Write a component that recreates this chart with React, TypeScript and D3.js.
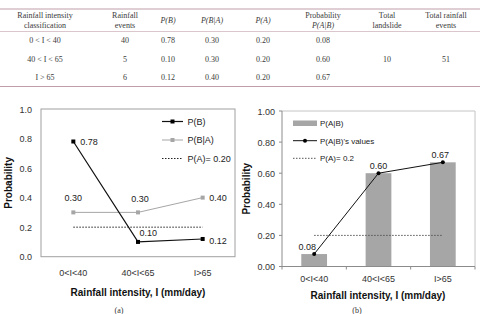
import React from 'react';
import * as d3 from 'd3';

// rainfall classes and the probabilities from the table
const categories = ['0<I<40', '40<I<65', 'I>65'];
const classLabels = ['0 < I < 40', '40 < I < 65', 'I > 65'];
const rainfallEvents = [40, 5, 6];
const pB = [0.78, 0.1, 0.12];
const pBA = [0.3, 0.3, 0.4];
const pA = [0.2, 0.2, 0.2];
const pAB = [0.08, 0.6, 0.67];
const totalLandslide = 10;
const totalRainfall = 51;

const leftTicks = [0, 0.2, 0.4, 0.6, 0.8, 1.0];
const rightTicks = [0, 0.2, 0.4, 0.6, 0.8, 1.0];

const W = 480;
const H = 314;
const sans = 'Liberation Sans, Arial, sans-serif';
const serif = 'Liberation Serif, Times New Roman, serif';

const fmt = d3.format('.2f');

const Table = () => {
  const cols = [45, 125, 168, 212, 263, 323, 387, 446];
  const headers: { lines: string[]; italic?: boolean[] }[] = [
    { lines: ['Rainfall intensity', 'classification'] },
    { lines: ['Rainfall', 'events'] },
    { lines: ['P(B)'], italic: [true] },
    { lines: ['P(B|A)'], italic: [true] },
    { lines: ['P(A)'], italic: [true] },
    { lines: ['Probability', 'P(A|B)'], italic: [false, true] },
    { lines: ['Total', 'landslide'] },
    { lines: ['Total rainfall', 'events'] },
  ];
  const rowY = [43, 61.5, 80];
  const rows = classLabels.map((c, i) => [
    c,
    String(rainfallEvents[i]),
    fmt(pB[i]),
    fmt(pBA[i]),
    fmt(pA[i]),
    fmt(pAB[i]),
  ]);
  return (
    <g fontFamily={serif} fontSize={8} fill="#3a3a3a">
      <line x1={0} x2={W} y1={9} y2={9} stroke="#bf9eaa" strokeWidth={1.2} />
      <line x1={0} x2={W} y1={31.5} y2={31.5} stroke="#dcc6ce" strokeWidth={1} />
      <line x1={0} x2={W} y1={86.5} y2={86.5} stroke="#bf9eaa" strokeWidth={1.2} />
      {headers.map((h, i) =>
        h.lines.map((t, j) => (
          <text
            key={`h${i}${j}`}
            x={cols[i]}
            y={h.lines.length === 1 ? 22.5 : 17.5 + j * 10.5}
            textAnchor="middle"
            fill="#3a3a3a"
            fontStyle={h.italic && h.italic[j] ? 'italic' : 'normal'}
          >
            {t}
          </text>
        ))
      )}
      {rows.map((r, i) =>
        r.map((v, j) => (
          <text key={`r${i}${j}`} x={cols[j]} y={rowY[i]} textAnchor="middle" fill="#3a3a3a">
            {v}
          </text>
        ))
      )}
      <text x={cols[6]} y={rowY[1]} textAnchor="middle" fill="#3a3a3a">{totalLandslide}</text>
      <text x={cols[7]} y={rowY[1]} textAnchor="middle" fill="#3a3a3a">{totalRainfall}</text>
    </g>
  );
};

const LeftChart = () => {
  const x0 = 41, x1 = 235, y0 = 109, y1 = 256.7;
  const x = d3.scalePoint().domain(categories).range([x0, x1]).padding(0.5);
  const y = d3.scaleLinear().domain([0, 1]).range([y1, y0]);
  const line = d3
    .line<number>()
    .x((_, i) => x(categories[i]) as number)
    .y((d) => y(d));

  const bLabels = [
    { dx: 7, dy: 3.5, anchor: 'start' },
    { dx: 1.5, dy: -6, anchor: 'start' },
    { dx: 6.5, dy: 5, anchor: 'start' },
  ];
  const baLabels = [
    { dx: 0, dy: -11, anchor: 'middle' },
    { dx: 2, dy: -10.5, anchor: 'middle' },
    { dx: 6.5, dy: 3.5, anchor: 'start' },
  ];

  return (
    <g fontFamily={sans}>
      <rect x={x0} y={y0} width={x1 - x0} height={y1 - y0} fill="none" stroke="#a0a0a0" strokeWidth={1} />
      {leftTicks.map((t) => (
        <text key={t} x={32} y={y(t) + 3.5} textAnchor="end" fontSize={9} fill="#333">
          {d3.format('.1f')(t)}
        </text>
      ))}
      {categories.map((c) => (
        <text key={c} x={x(c)} y={276} textAnchor="middle" fontSize={9} fill="#333">
          {c}
        </text>
      ))}
      <text x={138} y={296} textAnchor="middle" fontSize={10} fontWeight="bold" fill="#111">
        Rainfall intensity, I (mm/day)
      </text>
      <text
        transform={`translate(11.5,${(y0 + y1) / 2}) rotate(-90)`}
        textAnchor="middle"
        fontSize={10}
        fontWeight="bold"
        fill="#111"
      >
        Probability
      </text>
      <text x={119} y={313} textAnchor="middle" fontFamily={serif} fontSize={8} fill="#333">
        (a)
      </text>

      {/* P(A) reference */}
      <path d={line(pA) || ''} fill="none" stroke="#222" strokeWidth={1} strokeDasharray="1.5,1.5" />
      {/* P(B|A) */}
      <path d={line(pBA) || ''} fill="none" stroke="#a6a6a6" strokeWidth={1} />
      {pBA.map((v, i) => (
        <rect key={i} x={(x(categories[i]) as number) - 2} y={y(v) - 2} width={4} height={4} fill="#a6a6a6" />
      ))}
      {/* P(B) */}
      <path d={line(pB) || ''} fill="none" stroke="#111" strokeWidth={1.2} />
      {pB.map((v, i) => (
        <rect key={i} x={(x(categories[i]) as number) - 2} y={y(v) - 2} width={4} height={4} fill="#000" />
      ))}

      {pB.map((v, i) => (
        <text
          key={`b${i}`}
          x={(x(categories[i]) as number) + bLabels[i].dx}
          y={y(v) + bLabels[i].dy}
          textAnchor={bLabels[i].anchor}
          fontSize={9}
          fill="#222"
        >
          {fmt(v)}
        </text>
      ))}
      {pBA.map((v, i) => (
        <text
          key={`ba${i}`}
          x={(x(categories[i]) as number) + baLabels[i].dx}
          y={y(v) + baLabels[i].dy}
          textAnchor={baLabels[i].anchor}
          fontSize={9}
          fill="#222"
        >
          {fmt(v)}
        </text>
      ))}

      {/* legend */}
      <g fontSize={9} fill="#222">
        <line x1={162} x2={183} y1={121.5} y2={121.5} stroke="#111" strokeWidth={1.2} />
        <rect x={170.5} y={119.5} width={4} height={4} fill="#000" />
        <text x={187.5} y={124.5}>P(B)</text>
        <line x1={162} x2={183} y1={140} y2={140} stroke="#a6a6a6" strokeWidth={1} />
        <rect x={170.5} y={138} width={4} height={4} fill="#a6a6a6" />
        <text x={187.5} y={143}>P(B|A)</text>
        <line x1={162} x2={183} y1={158.5} y2={158.5} stroke="#222" strokeWidth={1} strokeDasharray="1.5,1.5" />
        <text x={187.5} y={161.5}>P(A)= 0.20</text>
      </g>
    </g>
  );
};

const RightChart = () => {
  const x0 = 282, x1 = 475, y0 = 111, y1 = 266.5;
  const band = d3.scaleBand().domain(categories).range([x0, x1]);
  const y = d3.scaleLinear().domain([0, 1]).range([y1, y0]);
  const cx = (c: string) => (band(c) as number) + band.bandwidth() / 2;
  const line = d3
    .line<number>()
    .x((_, i) => cx(categories[i]))
    .y((d) => y(d));
  const labelDx = [-7, 0, -2.5];

  return (
    <g fontFamily={sans}>
      <line x1={x0} x2={x1} y1={y0} y2={y0} stroke="#c4c4c4" />
      <line x1={x1} x2={x1} y1={y0} y2={y1} stroke="#c4c4c4" />
      {pAB.map((v, i) => {
        const c = categories[i];
        const bw = band.bandwidth() * 0.4;
        return (
          <rect key={c} x={cx(c) - bw / 2} y={y(v)} width={bw} height={y1 - y(v)} fill="#a6a6a6" />
        );
      })}
      <line x1={x0} x2={x0} y1={y0} y2={y1} stroke="#8c8c8c" />
      <line x1={x0} x2={x1} y1={y1} y2={y1} stroke="#8c8c8c" />
      {rightTicks.map((t) => (
        <g key={t}>
          <line x1={x0 - 3} x2={x0} y1={y(t)} y2={y(t)} stroke="#8c8c8c" />
          <text x={275} y={y(t) + 3.5} textAnchor="end" fontSize={9} fill="#333">
            {fmt(t)}
          </text>
        </g>
      ))}
      {[...categories.map((c) => band(c) as number), x1].map((bx, i) => (
        <line key={i} x1={bx} x2={bx} y1={y1} y2={y1 + 3} stroke="#8c8c8c" />
      ))}
      {categories.map((c) => (
        <text key={c} x={cx(c)} y={282} textAnchor="middle" fontSize={9} fill="#333">
          {c}
        </text>
      ))}
      <text x={378} y={298.5} textAnchor="middle" fontSize={10} fontWeight="bold" fill="#111">
        Rainfall intensity, I (mm/day)
      </text>
      <text
        transform={`translate(249.5,${(y0 + y1) / 2}) rotate(-90)`}
        textAnchor="middle"
        fontSize={10}
        fontWeight="bold"
        fill="#111"
      >
        Probability
      </text>
      <text x={357} y={313} textAnchor="middle" fontFamily={serif} fontSize={8} fill="#333">
        (b)
      </text>

      {/* P(A) reference */}
      <path d={line(pA) || ''} fill="none" stroke="#555" strokeWidth={1} strokeDasharray="1.5,1.5" />
      {/* P(A|B) values */}
      <path d={line(pAB) || ''} fill="none" stroke="#111" strokeWidth={1} />
      {pAB.map((v, i) => (
        <circle key={i} cx={cx(categories[i])} cy={y(v)} r={2} fill="#000" />
      ))}
      {pAB.map((v, i) => (
        <text
          key={`l${i}`}
          x={cx(categories[i]) + labelDx[i]}
          y={y(v) - 4.5}
          textAnchor="middle"
          fontSize={9}
          fill="#222"
        >
          {fmt(v)}
        </text>
      ))}

      {/* legend */}
      <g fontSize={8} fill="#222">
        <rect x={293} y={120.5} width={24} height={5.5} fill="#a6a6a6" />
        <text x={320} y={126}>P(A|B)</text>
        <line x1={293} x2={317} y1={140.7} y2={140.7} stroke="#111" strokeWidth={1} />
        <circle cx={305} cy={140.7} r={2} fill="#000" />
        <text x={320} y={143.5}>P(A|B)'s values</text>
        <line x1={293} x2={317} y1={158.3} y2={158.3} stroke="#555" strokeWidth={1} strokeDasharray="1.5,1.5" />
        <text x={320} y={161}>P(A)= 0.2</text>
      </g>
    </g>
  );
};

export default function App() {
  return (
    <svg
      width={W}
      height={H}
      viewBox={`0 0 ${W} ${H}`}
      style={{ position: 'absolute', left: 0, top: 0, background: '#fff' }}
    >
      <rect width={W} height={H} fill="#fff" />
      <Table />
      <LeftChart />
      <RightChart />
    </svg>
  );
}
